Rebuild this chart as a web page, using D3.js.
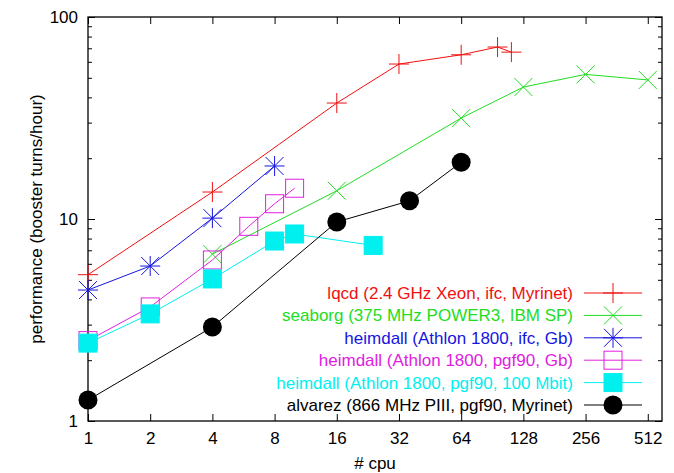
<!DOCTYPE html>
<html>
<head>
<meta charset="utf-8">
<script src="https://cdn.jsdelivr.net/npm/d3@7"></script>
<style>
    body { margin: 0; background: #fff; }
    svg { display: block; font-family: "Liberation Sans", Arial, sans-serif; }
</style>
</head>
<body>
<div id="chart"></div>
<script>

// data
const cpuTicks = [1, 2, 4, 8, 16, 32, 64, 128, 256, 512];
const perfTicks = [1, 10, 100];

const lqcdCpu = [1, 4, 16, 32, 64, 96, 112];
const lqcdPerf = [5.3, 13.6, 37.5, 58.5, 65, 71, 67];

const seaborgCpu = [4, 16, 64, 128, 256, 512];
const seaborgPerf = [6.7, 13.8, 31.6, 45, 52, 48.8];

const ifcGbCpu = [1, 2, 4, 8];
const ifcGbPerf = [4.45, 5.85, 10.1, 18.3];

const pgfGbCpu = [1, 2, 4, 6, 8, 10];
const pgfGbPerf = [2.5, 3.67, 6.27, 9.2, 11.9, 14.2];

const pgfMbitCpu = [1, 2, 4, 8, 10, 24];
const pgfMbitPerf = [2.43, 3.39, 5.05, 7.78, 8.43, 7.4];

const alvarezCpu = [1, 4, 16, 36, 64];
const alvarezPerf = [1.27, 2.92, 9.67, 12.3, 19.1];

const seriesNames = [
    "lqcd (2.4 GHz Xeon, ifc, Myrinet)",
    "seaborg (375 MHz POWER3, IBM SP)",
    "heimdall (Athlon 1800, ifc, Gb)",
    "heimdall (Athlon 1800, pgf90, Gb)",
    "heimdall (Athlon 1800, pgf90, 100 Mbit)",
    "alvarez (866 MHz PIII, pgf90, Myrinet)"
];

const series = [
    {cpu: lqcdCpu, perf: lqcdPerf, color: "#f01010", marker: "plus"},
    {cpu: seaborgCpu, perf: seaborgPerf, color: "#22dd22", marker: "cross"},
    {cpu: ifcGbCpu, perf: ifcGbPerf, color: "#1515e0", marker: "star"},
    {cpu: pgfGbCpu, perf: pgfGbPerf, color: "#e020e0", marker: "box"},
    {cpu: pgfMbitCpu, perf: pgfMbitPerf, color: "#00f0f0", marker: "fillbox"},
    {cpu: alvarezCpu, perf: alvarezPerf, color: "#000000", marker: "circle"}
];

const W = 674, H = 473;
const margin = {left: 88, top: 17, right: 12, bottom: 52};
const width = W - margin.left - margin.right;
const height = H - margin.top - margin.bottom;

const svg = d3.select("#chart")
    .append("svg")
    .attr("width", W)
    .attr("height", H);

const g = svg.append("g")
    .attr("transform", `translate(${margin.left},${margin.top})`);

const x = d3.scaleLog().base(2).domain([1, 600]).range([0, width]);
const y = d3.scaleLog().domain([1, 100]).range([height, 0]);

// minor y ticks 2..9, 20..90
let minorY = [];
[1, 10].forEach((d)=>{
    for (let k = 2; k <= 9; k++) minorY.push(d * k);
});

//axes, ticks pointing inwards
const fontSize = 17;
let ax = g.append("g")
    .attr("transform", `translate(0,${height})`)
    .call(d3.axisBottom(x).tickValues(cpuTicks).tickFormat(d3.format("d")).tickSize(-7).tickPadding(11));
g.append("g")
    .call(d3.axisTop(x).tickValues(cpuTicks).tickFormat("").tickSize(-7));
let ay = g.append("g")
    .call(d3.axisLeft(y).tickValues(perfTicks).tickFormat(d3.format("d")).tickSize(-7).tickPadding(10));
g.append("g")
    .call(d3.axisLeft(y).tickValues(minorY).tickFormat("").tickSize(-4));
g.append("g")
    .attr("transform", `translate(${width},0)`)
    .call(d3.axisRight(y).tickValues(perfTicks).tickFormat("").tickSize(-7));
g.append("g")
    .attr("transform", `translate(${width},0)`)
    .call(d3.axisRight(y).tickValues(minorY).tickFormat("").tickSize(-4));

g.selectAll(".domain").remove();
g.selectAll(".tick line").attr("stroke", "#000").attr("stroke-width", 1);
g.selectAll(".tick text")
    .attr("font-family", "Liberation Sans, Arial, sans-serif")
    .attr("font-size", fontSize)
    .attr("fill", "#000");

g.append("rect")
    .attr("x", 0)
    .attr("y", 0)
    .attr("width", width)
    .attr("height", height)
    .attr("fill", "none")
    .attr("stroke", "#000")
    .attr("stroke-width", 1.3);

// axis titles
svg.append("text")
    .text("# cpu")
    .attr("x", margin.left + width / 2)
    .attr("y", 469)
    .attr("text-anchor", "middle")
    .attr("font-size", fontSize);

svg.append("text")
    .text("performance (booster turns/hour)")
    .attr("transform", `translate(42,${margin.top + height / 2}) rotate(-90)`)
    .attr("text-anchor", "middle")
    .attr("font-size", fontSize);

function drawMarker(sel, type, cx, cy, color) {
    let m = sel.append("g").attr("transform", `translate(${cx},${cy})`);
    let seg = (x1, y1, x2, y2) => {
        m.append("line")
            .attr("x1", x1).attr("y1", y1)
            .attr("x2", x2).attr("y2", y2)
            .attr("stroke", color)
            .attr("stroke-width", 1);
    };
    if (type == "plus" || type == "star") {
        seg(-10, 0, 10, 0);
        seg(0, -10, 0, 10);
    }
    if (type == "cross" || type == "star") {
        seg(-9, -9, 9, 9);
        seg(-9, 9, 9, -9);
    }
    if (type == "box" || type == "fillbox") {
        m.append("rect")
            .attr("x", -9).attr("y", -9)
            .attr("width", 18).attr("height", 18)
            .attr("fill", type == "fillbox" ? color : "none")
            .attr("stroke", color)
            .attr("stroke-width", 1);
    }
    if (type == "circle") {
        m.append("circle")
            .attr("r", 9.5)
            .attr("fill", color);
    }
}

const line = d3.line()
    .x((d)=>x(d[0]))
    .y((d)=>y(d[1]));

series.forEach((s)=>{
    let sg = g.append("g");
    let pts = s.cpu.map((c, i)=>[c, s.perf[i]]);
    sg.append("path")
        .datum(pts)
        .attr("d", line)
        .attr("fill", "none")
        .attr("stroke", s.color)
        .attr("stroke-width", 1);
    pts.forEach((p)=>{
        drawMarker(sg, s.marker, x(p[0]), y(p[1]), s.color);
    });
});

// legend
const legendY0 = 293, legendStep = 22.4;
let lg = svg.append("g");
series.forEach((s, i)=>{
    let ly = legendY0 + i * legendStep;
    lg.append("text")
        .text(seriesNames[i])
        .attr("x", 573)
        .attr("y", ly)
        .attr("dy", "0.35em")
        .attr("text-anchor", "end")
        .attr("font-size", fontSize)
        .attr("fill", s.color);
    lg.append("line")
        .attr("x1", 584).attr("x2", 642)
        .attr("y1", ly).attr("y2", ly)
        .attr("stroke", s.color)
        .attr("stroke-width", 1);
    drawMarker(lg, s.marker, 613, ly, s.color);
});

</script>
</body>
</html>
